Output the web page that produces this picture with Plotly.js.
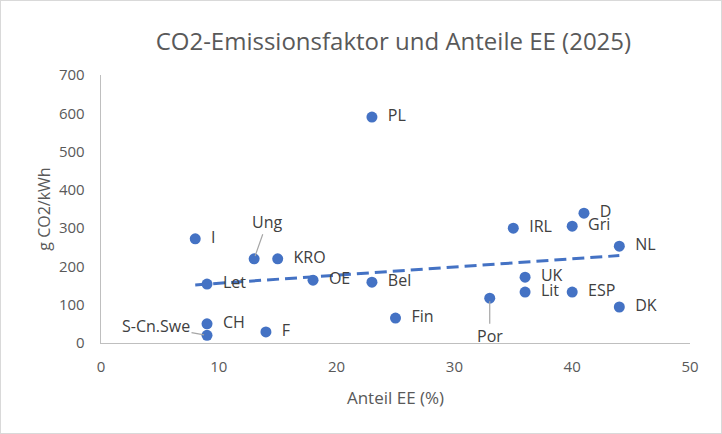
<!DOCTYPE html>
<html>
<head>
<meta charset="utf-8">
<script src="https://cdn.plot.ly/plotly-3.0.1.min.js"></script>
<style>
  html, body { margin: 0; padding: 0; background: #fff; }
  #chart { width: 720px; height: 432px; border: 1px solid #d9d9d9; }
</style>
</head>
<body>
<div id="chart"></div>
<script>
// Anteil erneuerbare Energien (%) und CO2-Emissionsfaktor (g/kWh)
var laender = ['PL', 'I', 'Ung', 'KRO', 'Let', 'OE', 'Bel', 'Fin', 'CH', 'S-Cn.Swe',
               'F', 'Por', 'IRL', 'Gri', 'D', 'NL', 'UK', 'Lit', 'ESP', 'DK'];
var anteilEE = [23, 8, 13, 15, 9, 18, 23, 25, 9, 9,
                14, 33, 35, 40, 41, 44, 36, 36, 40, 44];
var co2 = [590, 272, 220, 220, 154, 164, 159, 65, 50, 20,
           29, 117, 300, 305, 339, 253, 172, 133, 133, 94];

// labels drawn with a leader line instead of next to the point
var mitLinie = {'Ung': [13, -37], 'S-Cn.Swe': [-51, -9], 'Por': [0, 38]};

// linear trendline (least squares), like the Excel one
var n = anteilEE.length;
var mx = anteilEE.reduce(function (a, b) { return a + b; }, 0) / n;
var my = co2.reduce(function (a, b) { return a + b; }, 0) / n;
var sxy = 0, sxx = 0;
for (var i = 0; i < n; i++) {
    sxy += (anteilEE[i] - mx) * (co2[i] - my);
    sxx += (anteilEE[i] - mx) * (anteilEE[i] - mx);
}
var slope = sxy / sxx;
var icpt = my - slope * mx;
var xMin = Math.min.apply(null, anteilEE);
var xMax = Math.max.apply(null, anteilEE);

var blau = '#4472c4';
var textFarbe = '#404040';
var schrift = 'Open Sans, Noto Sans, sans-serif';

// en space in front so the label sits a bit away from the point
var labels = laender.map(function (l) { return mitLinie[l] ? '' : '\u2002' + l; });

var traces = [{
        x: [xMin, xMax],
        y: [icpt + slope * xMin, icpt + slope * xMax],
        type: 'scatter',
        mode: 'lines',
        line: {color: blau, width: 3, dash: '12px,6px'},
        hoverinfo: 'skip',
        showlegend: false
    },
    {
        x: anteilEE,
        y: co2,
        text: labels,
        type: 'scatter',
        mode: 'markers+text',
        textposition: 'middle right',
        textfont: {family: schrift, size: 16, color: textFarbe},
        marker: {color: blau, size: 11},
        showlegend: false
    }
];

var annotations = [];
laender.forEach(function (l, i) {
    if (!mitLinie[l]) return;
    annotations.push({
        x: anteilEE[i],
        y: co2[i],
        xref: 'x',
        yref: 'y',
        text: l,
        showarrow: true,
        arrowhead: 0,
        arrowwidth: 1.2,
        arrowcolor: '#a6a6a6',
        standoff: 3,
        ax: mitLinie[l][0],
        ay: mitLinie[l][1],
        font: {family: schrift, size: 16, color: textFarbe}
    });
});

var layout = {
    width: 720,
    height: 432,
    margin: {l: 100, r: 31, t: 74, b: 90},
    paper_bgcolor: '#fff',
    plot_bgcolor: '#fff',
    font: {family: schrift, color: '#595959'},
    title: {
        text: 'CO2-Emissionsfaktor und Anteile EE (2025)',
        font: {family: schrift, size: 24, color: '#595959'},
        x: 0.545,
        xanchor: 'center',
        y: 0.905,
        yanchor: 'middle'
    },
    xaxis: {
        range: [0, 50],
        dtick: 10,
        showgrid: false,
        zeroline: false,
        showline: true,
        linecolor: '#bfbfbf',
        linewidth: 1.3,
        ticks: '',
        ticklabelstandoff: 10,
        tickfont: {size: 15, color: '#595959'},
        title: {text: 'Anteil EE (%)', font: {size: 17, color: '#595959'}, standoff: 16}
    },
    yaxis: {
        range: [0, 700],
        dtick: 100,
        showgrid: false,
        zeroline: false,
        showline: true,
        linecolor: '#bfbfbf',
        linewidth: 1.3,
        ticks: '',
        ticklabelstandoff: 12,
        tickfont: {size: 15, color: '#595959'},
        title: {text: 'g CO2/kWh', font: {size: 16, color: '#595959'}, standoff: 4}
    },
    annotations: annotations
};

Plotly.newPlot('chart', traces, layout, {displayModeBar: false, staticPlot: true});
</script>
</body>
</html>
